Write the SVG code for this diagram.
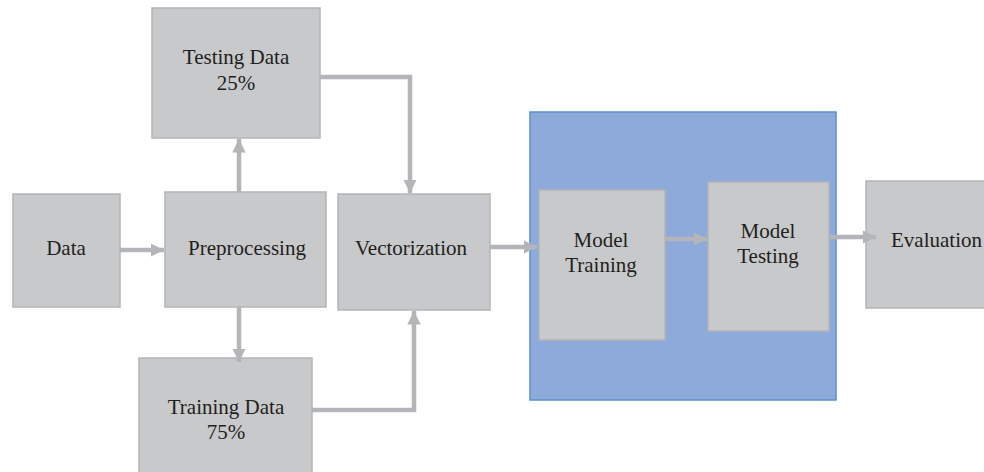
<svg xmlns="http://www.w3.org/2000/svg" width="984" height="472" viewBox="0 0 984 472">
<defs>
<style>
.box{fill:#c8c9cb;stroke:#b3b4b6;stroke-width:1.5}
.t{font-family:"Liberation Serif","Times New Roman",serif;font-size:21px;fill:#231f20;text-anchor:middle}
.c{fill:none;stroke:#b4b5b8;stroke-width:4.5}
</style>
<marker id="ah" viewBox="0 0 10 10" refX="10" refY="5" markerWidth="3" markerHeight="3" orient="auto" markerUnits="strokeWidth">
<path d="M0,0 L10,5 L0,10 z" fill="#b4b5b8"/>
</marker>
</defs>
<rect x="0" y="0" width="984" height="472" fill="#ffffff"/>
<g id="container">
<rect x="530" y="112" width="306" height="288" fill="#8eaadb" stroke="#5b8fd4" stroke-width="1.5"/>
</g>
<g id="testing-data">
<rect class="box" x="152" y="8" width="168" height="130"/>
<text class="t" x="236" y="64">Testing Data</text>
<text class="t" x="236" y="90">25%</text>
</g>
<g id="data">
<rect class="box" x="13" y="194" width="107" height="113"/>
<text class="t" x="66" y="255">Data</text>
</g>
<g id="preprocessing">
<rect class="box" x="165" y="192" width="161" height="115"/>
<text class="t" x="247" y="255">Preprocessing</text>
</g>
<g id="vectorization">
<rect class="box" x="338" y="194" width="152" height="116"/>
<text class="t" x="411" y="255">Vectorization</text>
</g>
<g id="training-data">
<rect class="box" x="139" y="358" width="173" height="116"/>
<text class="t" x="226" y="414">Training Data</text>
<text class="t" x="226" y="439">75%</text>
</g>
<g id="model-training">
<rect class="box" x="539" y="190" width="126" height="150"/>
<text class="t" x="601" y="247">Model</text>
<text class="t" x="601" y="272">Training</text>
</g>
<g id="model-testing">
<rect class="box" x="708" y="182" width="121" height="149"/>
<text class="t" x="768" y="238">Model</text>
<text class="t" x="768" y="263">Testing</text>
</g>
<g id="evaluation">
<rect class="box" x="866" y="181" width="122" height="127"/>
<text class="t" x="891" y="247" style="text-anchor:start">Evaluation</text>
</g>
<g id="connectors">
<path class="c" d="M120,250 H164" marker-end="url(#ah)"/>
<path class="c" d="M239,192 V139" marker-end="url(#ah)"/>
<path class="c" d="M239,307 V362" marker-end="url(#ah)"/>
<path class="c" d="M320,77 H410 V193" marker-end="url(#ah)"/>
<path class="c" d="M312,410 H414 V311" marker-end="url(#ah)"/>
<path class="c" d="M490,247 H537" marker-end="url(#ah)"/>
<path class="c" d="M665,239 H707" marker-end="url(#ah)"/>
<path class="c" d="M830,237 H876" marker-end="url(#ah)"/>
</g>
</svg>
